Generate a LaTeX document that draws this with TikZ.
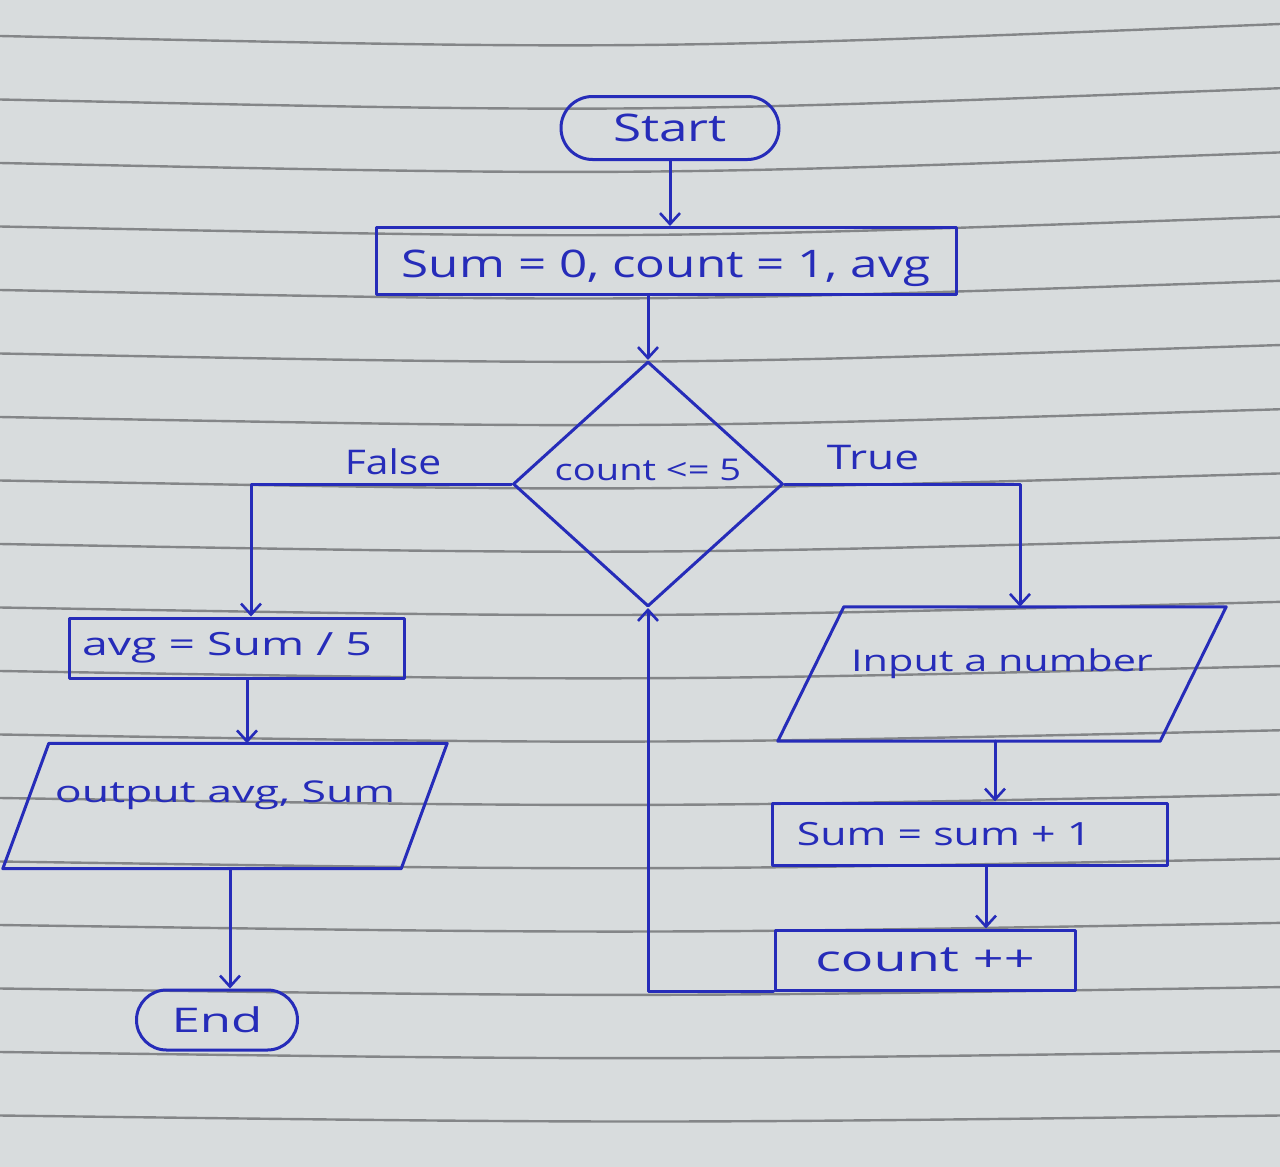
\documentclass[tikz,border=0pt]{standalone}
\usepackage{fontspec}
\usepackage{graphicx}
\setmainfont{Open Sans}
\usetikzlibrary{shapes.geometric,shapes.misc,arrows.meta,calc}
\definecolor{ink}{RGB}{38,44,185}
\definecolor{paper}{RGB}{216,220,221}
\definecolor{ruling}{RGB}{132,134,136}
\newcommand\hw[3]{{\fontsize{#1}{#1}\selectfont\scalebox{#2}[1]{#3}}}
\begin{document}
\begin{tikzpicture}[x=1pt,y=-1pt,
  inkline/.style={draw=ink, line width=3pt, line join=round, line cap=round},
  arr/.style={inkline, -{Straight Barb[length=11pt,width=20pt,line width=2.6pt]}},
  lbl/.style={text=ink, inner sep=0pt},
  boxn/.style={inkline, rectangle, inner sep=0pt, text=ink},
  term/.style={inkline, rounded rectangle, inner sep=0pt, text=ink},
  decn/.style={inkline, diamond, inner sep=0pt, text=ink, text depth=28pt},
  parabox/.style={rectangle, inner sep=0pt, text=ink, text depth=28pt}
]
\fill[paper] (0,0) rectangle (1280,1167);
\useasboundingbox (0,0) rectangle (1280,1167);
\foreach \k in {0,...,17} {
  \pgfmathsetmacro\m{40+63.5*\k}
  \pgfmathsetmacro\yl{\m-4}
  \pgfmathsetmacro\yr{\m-4-12*(1-\k/17)}
  \pgfmathsetmacro\yc{2*\m-(\yl+\yr)/2}
  \draw[ruling, line width=2.4pt] (0,\yl) .. controls (640,\yc) .. (1280,\yr);
}

\node[term, minimum width=218pt, minimum height=63pt] (start) at (670,128) {\hw{38}{1.35}{Start}};
\node[boxn, minimum width=580pt, minimum height=67pt, text height=32pt, text depth=0pt] (init) at (666,261) {\hw{38}{1.3}{Sum = 0, count = 1, avg}};
\node[decn, minimum width=270pt, minimum height=245pt] (dec) at (648,484) {\hw{30}{1.27}{count <= 5}};
\node[lbl] (false) at (393,462) {\hw{34}{1.2}{False}};
\node[lbl] (true) at (873,458) {\hw{34}{1.3}{True}};
\node[parabox, minimum width=382pt, minimum height=134pt] (input) at (1002,674) {\hw{30}{1.38}{Input a number}};
\draw[inkline] ($(input.south west)+(-33,0)$) -- ($(input.north west)+(33,0)$) -- ($(input.north east)+(33,0)$) -- ($(input.south east)+(-33,0)$) -- cycle;
\node[boxn, minimum width=395pt, minimum height=62pt] (sumb) at (970,834) {\hw{32}{1.34}{Sum = sum + 1}\rule{52pt}{0pt}};
\node[boxn, minimum width=300pt, minimum height=60pt] (countb) at (925,960) {\hw{36}{1.5}{count ++}};
\node[boxn, minimum width=335pt, minimum height=60pt] (avgb) at (237,648) {\hw{32}{1.45}{avg = Sum / 5}\rule{20pt}{0pt}};
\node[parabox, minimum width=398pt, minimum height=125pt] (output) at (225,806) {\hw{30}{1.49}{output avg, Sum}};
\draw[inkline] ($(output.south west)+(-23,0)$) -- ($(output.north west)+(23,0)$) -- ($(output.north east)+(23,0)$) -- ($(output.south east)+(-23,0)$) -- cycle;
\node[term, minimum width=161pt, minimum height=60pt] (endn) at (217,1020) {\hw{34}{1.5}{End}};

\draw[arr] (start.south) -- (start.south |- init.north);
\draw[arr] (init.south -| dec.north) -- (dec.north);
\coordinate (fl) at ($(avgb.north)+(14,0)$);
\draw[arr] (dec.west) -| (fl);
\coordinate (tr) at ($(input.north)+(18,0)$);
\draw[arr] (dec.east) -| (tr);
\coordinate (ib) at ($(input.south)+(-7,0)$);
\draw[arr] (ib) -- (ib |- sumb.north);
\coordinate (s2) at ($(sumb.south)+(16,0)$);
\draw[arr] (s2) -- (s2 |- countb.north);
\draw[arr] (countb.south west) -| (dec.south);
\coordinate (a2) at ($(avgb.south)+(10,0)$);
\draw[arr] (a2) -- (a2 |- output.north);
\coordinate (o2) at ($(output.south)+(5,0)$);
\draw[arr] (o2) -- (o2 |- endn.north);
\end{tikzpicture}
\end{document}
